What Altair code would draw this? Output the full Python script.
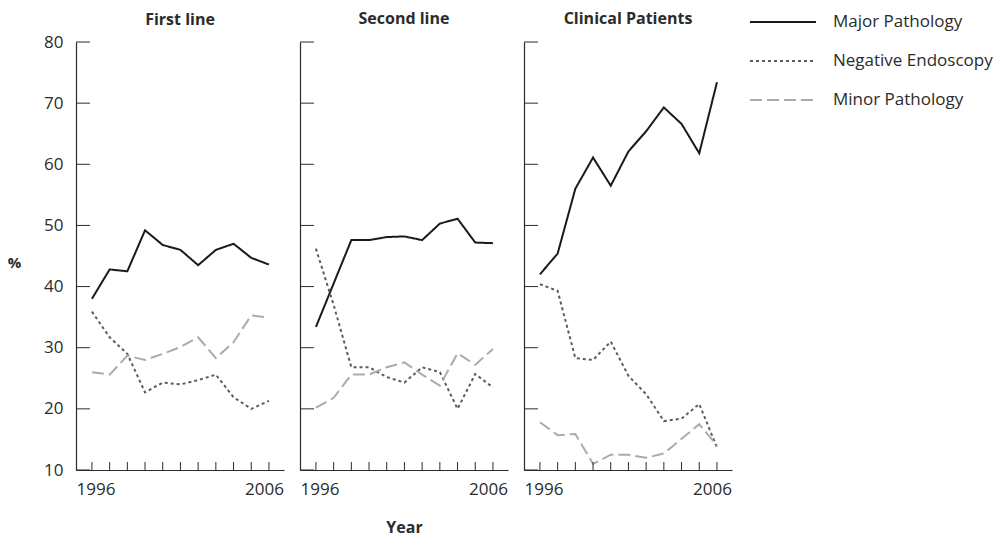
import altair as alt
import pandas as pd

years = list(range(1996, 2007))
panel_titles = ["First line", "Second line", "Clinical Patients"]
series_names = ["Major Pathology", "Negative Endoscopy", "Minor Pathology"]
y_ticks = [10, 20, 30, 40, 50, 60, 70, 80]
x_labels = [1996, 2006]

first_major = [38.0, 42.8, 42.5, 49.2, 46.8, 46.0, 43.5, 46.0, 47.0, 44.7, 43.6]
first_negative = [35.9, 31.7, 29.0, 22.7, 24.3, 24.0, 24.7, 25.6, 21.9, 20.0, 21.3]
first_minor = [26.0, 25.6, 28.7, 28.0, 29.0, 30.1, 31.7, 28.3, 30.9, 35.3, 34.9]

second_major = [33.4, 40.5, 47.6, 47.6, 48.1, 48.2, 47.6, 50.3, 51.1, 47.2, 47.1]
second_negative = [46.2, 37.0, 26.8, 26.8, 25.2, 24.3, 26.8, 26.0, 20.0, 25.7, 23.5]
second_minor = [20.2, 21.8, 25.6, 25.6, 26.8, 27.6, 25.6, 23.8, 29.1, 27.2, 29.8]

clinical_major = [42.0, 45.4, 56.0, 61.1, 56.5, 62.1, 65.4, 69.3, 66.6, 61.8, 73.4]
clinical_negative = [40.4, 39.3, 28.3, 28.0, 31.0, 25.4, 22.4, 18.0, 18.4, 20.8, 13.7]
clinical_minor = [17.8, 15.7, 15.9, 11.0, 12.5, 12.5, 12.0, 12.7, 15.1, 17.5, 14.0]

panel_values = [
    [first_major, first_negative, first_minor],
    [second_major, second_negative, second_minor],
    [clinical_major, clinical_negative, clinical_minor],
]

FONT = "Open Sans"
INK = "#2b2b2b"
W, H = 208, 428

x_scale = alt.Scale(domain=[1995.1, 2006.85], nice=False, zero=False)
y_scale = alt.Scale(domain=[10, 80], nice=False, zero=False)
color_scale = alt.Scale(domain=series_names, range=["#1a1a1a", "#5c5c5c", "#ababab"])
dash_scale = alt.Scale(domain=series_names, range=[[1, 0], [3, 3], [12, 5]])


def panel(i):
    rows = []
    for s, vals in zip(series_names, panel_values[i]):
        for yr, v in zip(years, vals):
            rows.append({"year": yr, "value": v, "series": s})
    df = pd.DataFrame(rows)
    first = i == 0
    middle = i == 1
    x_axis = alt.Axis(values=x_labels, format="d", ticks=False, grid=False,
                      labelFontSize=17, labelPadding=11, labelColor=INK,
                      domainColor=INK, labelFont=FONT,
                      labelOffset={"condition": {"test": "datum.value < 2000", "value": 3.5},
                                   "value": -5},
                      title="Year" if middle else "", titleFontSize=16,
                      titleFontWeight="bold", titleFont=FONT, titleColor=INK,
                      titlePadding=22)
    if first:
        y_axis = alt.Axis(values=y_ticks, ticks=False, grid=False,
                          labelFontSize=17, labelPadding=13, labelColor=INK,
                          labelFont=FONT, domainColor=INK,
                          title="%", titleAngle=0, titleX=-62, titleY=220,
                          titleAlign="center", titleBaseline="middle",
                          titleFontSize=15, titleFontWeight="bold",
                          titleFont=FONT, titleColor=INK)
    else:
        y_axis = alt.Axis(values=y_ticks, ticks=False, grid=False, labels=False,
                          domainColor=INK, title="")
    legend = alt.Legend(title=None, orient="none", legendX=673, legendY=-30,
                        symbolType="stroke", symbolSize=4356, symbolStrokeWidth=2,
                        labelFontSize=17, labelFont=FONT, labelColor=INK,
                        labelOffset=16, clipHeight=20, rowPadding=19)
    lines = alt.Chart(df).mark_line(strokeWidth=2).encode(
        x=alt.X("year:Q", scale=x_scale, axis=x_axis),
        y=alt.Y("value:Q", scale=y_scale, axis=y_axis),
        color=alt.Color("series:N", scale=color_scale, legend=legend,
                        sort=series_names),
        strokeDash=alt.StrokeDash("series:N", scale=dash_scale, legend=legend,
                                  sort=series_names),
        detail="series:N",
    )
    ytk = alt.Chart(pd.DataFrame({"v": y_ticks})).mark_rule(
        color=INK, strokeWidth=1).encode(
        y=alt.Y("v:Q", scale=y_scale, axis=y_axis),
        x=alt.value(0), x2=alt.value(14))
    xtk = alt.Chart(pd.DataFrame({"year": years})).mark_rule(
        color=INK, strokeWidth=1).encode(
        x=alt.X("year:Q", scale=x_scale, axis=x_axis),
        y=alt.value(H), y2=alt.value(H - 8))
    return alt.layer(lines, ytk, xtk).properties(
        width=W, height=H,
        title=alt.TitleParams(panel_titles[i], fontSize=16, fontWeight="bold",
                              font=FONT, color=INK, offset=5 if first else 15,
                              anchor="middle", frame="group"))


chart = alt.hconcat(panel(0), panel(1), panel(2), spacing=15).properties(
    padding={"left": 7, "top": 10, "right": 5, "bottom": 2}
).configure_view(stroke=None).configure_axis(domainWidth=1.2)

chart.save("out.html", embed_options={"renderer": "svg", "actions": False})
